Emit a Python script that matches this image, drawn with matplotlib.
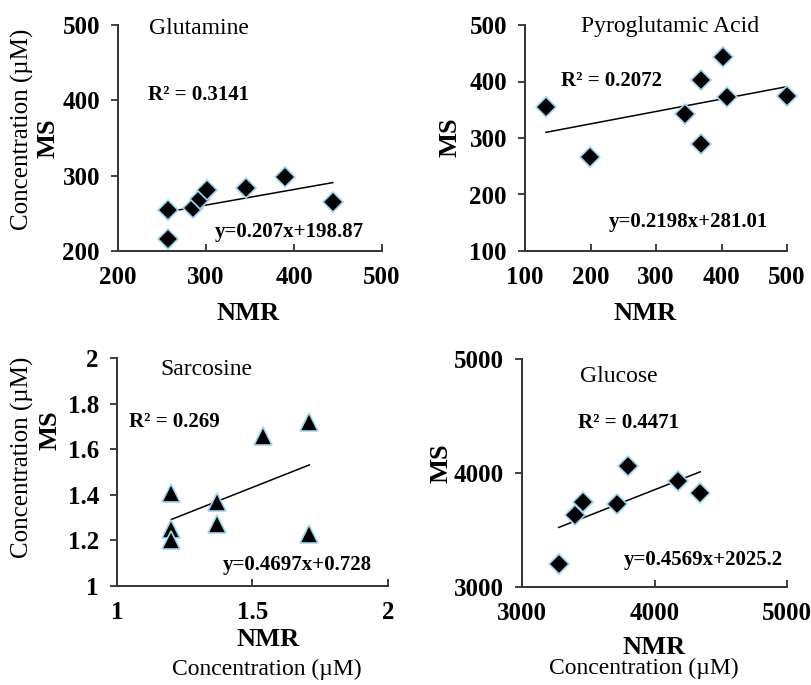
import matplotlib
matplotlib.use("Agg")
from matplotlib import pyplot as plt
import numpy as np

plt.rcParams['font.family'] = ['Liberation Serif', 'DejaVu Serif']

# Glutamine
glu_nmr = [257, 257, 285, 293, 301, 345, 390, 444]
glu_ms = [255, 216, 257, 269, 281, 283, 298, 265]
# Pyroglutamic acid
pyr_nmr = [132, 199, 345, 368, 368, 403, 409, 500]
pyr_ms = [355, 266, 343, 403, 289, 444, 372, 375]
# Sarcosine
sar_nmr = [1.2, 1.2, 1.2, 1.37, 1.37, 1.54, 1.71, 1.71]
sar_ms = [1.41, 1.25, 1.2, 1.37, 1.27, 1.66, 1.72, 1.23]
# Glucose
glc_nmr = [3277, 3400, 3460, 3717, 3800, 4177, 4345]
glc_ms = [3205, 3635, 3745, 3730, 4065, 3933, 3825]

fig = plt.figure(figsize=(8.11, 6.85), dpi=100)
W, H = 811.0, 685.0


def px_axes(l, t, r, b):
    return fig.add_axes([l / W, 1 - b / H, (r - l) / W, (b - t) / H])


def ftext(x, y, s, **kw):
    fig.text(x / W, 1 - y / H, s, ha="center", va="center", **kw)


def panel(ax, x, y, marker, ms, xlim, ylim, xticks, yticks, slope, icpt, title, tpos, r2, rpos, eq, epos):
    ax.plot(x, y, linestyle="none", marker=marker, markersize=ms, markerfacecolor="black",
            markeredgecolor="#9fd8f2", markeredgewidth=1.2, zorder=3, clip_on=False)
    xx = np.array([min(x), max(x)])
    ax.plot(xx, slope * xx + icpt, color="black", lw=1.1, zorder=2)
    ax.set_xlim(*xlim)
    ax.set_ylim(*ylim)
    ax.set_xticks(xticks)
    ax.set_yticks(yticks)
    for s in ["top", "right"]:
        ax.spines[s].set_visible(False)
    for s in ["left", "bottom"]:
        ax.spines[s].set_linewidth(1.4)
        ax.spines[s].set_color("#333333")
    ax.tick_params(axis="x", direction="in", length=5, width=1.3, pad=11, labelsize=18, color="#333333")
    ax.tick_params(axis="y", direction="out", length=5, width=1.3, pad=8, labelsize=18, color="#333333")
    for lab in ax.get_xticklabels() + ax.get_yticklabels():
        lab.set_fontweight("bold")
    ax.set_facecolor("none")
    ax.text(tpos[0], tpos[1], title, ha="center", va="center", fontsize=17)
    ax.text(rpos[0], rpos[1], r2, ha="left", va="center", fontsize=15, fontweight="bold")
    ax.text(epos[0], epos[1], eq, ha="left", va="center", fontsize=15, fontweight="bold")


ax1 = px_axes(118, 25, 382, 251)
panel(ax1, glu_nmr, glu_ms, "D", 10.5, (200, 500), (200, 500), [200, 300, 400, 500], [200, 300, 400, 500],
      0.207, 198.87, "Glutamine", (292, 495), "R² = 0.3141", (234, 407), "y=0.207x+198.87", (310, 225))

ax2 = px_axes(525, 25, 787, 251)
panel(ax2, pyr_nmr, pyr_ms, "D", 10.5, (100, 500), (100, 500), [100, 200, 300, 400, 500],
      [100, 200, 300, 400, 500], 0.2198, 281.01, "Pyroglutamic Acid", (321, 497), "R² = 0.2072",
      (155, 400), "y=0.2198x+281.01", (228, 151))

ax3 = px_axes(117, 358, 388, 586)
panel(ax3, sar_nmr, sar_ms, "^", 13, (1, 2), (1, 2), [1, 1.5, 2], [1, 1.2, 1.4, 1.6, 1.8, 2],
      0.4697, 0.728, "Sarcosine", (1.33, 1.95), "R² = 0.269", (1.046, 1.72), "y=0.4697x+0.728", (1.39, 1.09))
ax3.set_xticklabels(["1", "1.5", "2"], fontweight="bold")
ax3.set_yticklabels(["1", "1.2", "1.4", "1.6", "1.8", "2"], fontweight="bold")

ax4 = px_axes(522, 359, 787, 587)
panel(ax4, glc_nmr, glc_ms, "D", 10.5, (3000, 5000), (3000, 5000), [3000, 4000, 5000], [3000, 4000, 5000],
      0.4569, 2025.2, "Glucose", (3727, 4845), "R² = 0.4471", (3425, 4441), "y=0.4569x+2025.2", (3765, 3240))

# axis titles
ftext(22, 129, "Concentration (µM)", fontsize=18, rotation=90)
ftext(48, 138, "MS", fontsize=19, fontweight="bold", rotation=90)
ftext(450, 137, "MS", fontsize=19, fontweight="bold", rotation=90)
ftext(22, 457, "Concentration (µM)", fontsize=18, rotation=90)
ftext(50, 430, "MS", fontsize=19, fontweight="bold", rotation=90)
ftext(441, 463, "MS", fontsize=19, fontweight="bold", rotation=90)
ftext(248, 313, "NMR", fontsize=19, fontweight="bold")
ftext(645, 313, "NMR", fontsize=19, fontweight="bold")
ftext(268, 640, "NMR", fontsize=19, fontweight="bold")
ftext(654, 647, "NMR", fontsize=19, fontweight="bold")
ftext(267, 669, "Concentration (µM)", fontsize=17)
ftext(644, 668, "Concentration (µM)", fontsize=17)

fig.savefig("out.png", dpi=100)
